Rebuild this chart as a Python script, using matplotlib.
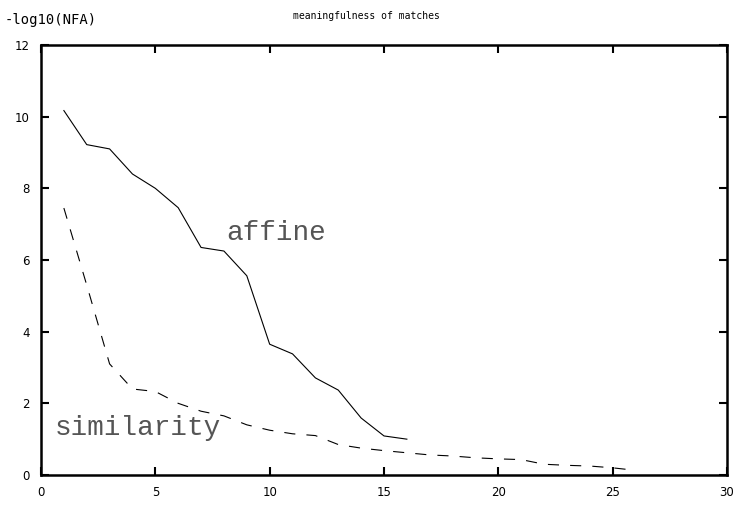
import matplotlib
matplotlib.use("Agg")
import matplotlib.pyplot as plt

# %% data
affine_x = list(range(1, 17))
affine_y = [10.17, 9.22, 9.1, 8.4, 8.0, 7.46, 6.35, 6.25, 5.56,
            3.65, 3.38, 2.71, 2.37, 1.59, 1.09, 1.0]

similarity_x = list(range(1, 27))
similarity_y = [7.45, 5.3, 3.1, 2.4, 2.33, 2.0, 1.78, 1.65, 1.4, 1.25,
                1.15, 1.1, 0.85, 0.75, 0.68, 0.62, 0.56, 0.53, 0.48, 0.45,
                0.43, 0.3, 0.27, 0.25, 0.2, 0.13]

xticks = [0, 5, 10, 15, 20, 25, 30]
yticks = [0, 2, 4, 6, 8, 10, 12]

# %%
fig = plt.figure(figsize=(7.33, 5.07), dpi=100)
ax = fig.add_axes([41 / 733, 32 / 507, 686 / 733, 430 / 507])

ax.plot(affine_x, affine_y, color="black", linewidth=0.8)
ax.plot(similarity_x, similarity_y, color="black", linewidth=0.8,
        linestyle=(0, (10, 10)))

ax.text(8.1, 6.75, "affine", family="Liberation Mono", fontsize=20,
        va="center", ha="left", color="#555555")
ax.text(0.6, 1.3, "similarity", family="Liberation Mono", fontsize=20,
        va="center", ha="left", color="#555555")

ax.set_xlim(0, 30)
ax.set_ylim(0, 12)
ax.set_xticks(xticks)
ax.set_yticks(yticks)
ax.tick_params(direction="in", length=6, width=1.5, top=True, right=True,
               labelsize=8.5, pad=8)
for s in ax.spines.values():
    s.set_linewidth(1.8)

fig.text(0.5, 1 - 16 / 507, "meaningfulness of matches", ha="center",
         va="center", family="DejaVu Sans Mono", fontsize=7)
fig.text(5 / 733, 1 - 20 / 507, "-log10(NFA)", ha="left", va="center",
         family="DejaVu Sans Mono", fontsize=10)

fig.savefig("out.png", dpi=100, facecolor="w")
